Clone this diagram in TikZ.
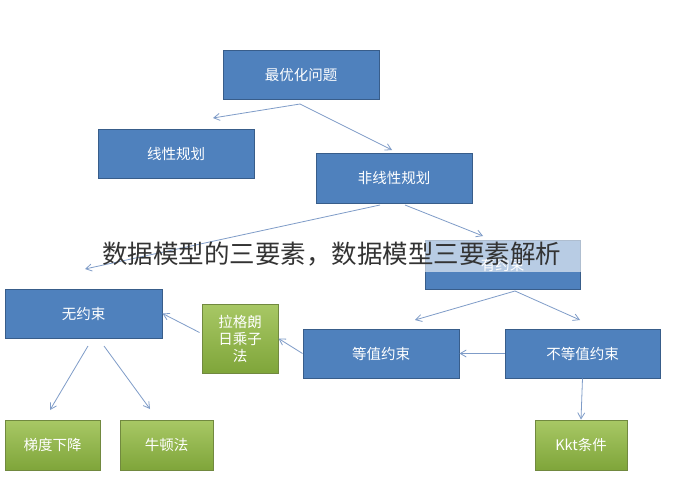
\documentclass[tikz,border=0pt]{standalone}
\usepackage{fontspec}
\newfontfamily\cjk{Noto Sans CJK SC}
\usetikzlibrary{arrows.meta}
\definecolor{bfill}{HTML}{4F81BD}
\definecolor{bdraw}{HTML}{385D8A}
\definecolor{gtop}{HTML}{A8C865}
\definecolor{gbot}{HTML}{7FA53A}
\definecolor{gdraw}{HTML}{71893F}
\definecolor{arr}{HTML}{7F9CC8}
\begin{document}
\begin{tikzpicture}[x=1pt,y=-1pt,
  bbox/.style={draw=bdraw,line width=1pt,fill=bfill,text=white,font=\cjk\fontsize{14.5}{16}\selectfont,inner sep=0pt},
  gbox/.style={draw=gdraw,line width=1pt,top color=gtop,bottom color=gbot,text=white,font=\cjk\fontsize{14.5}{17}\selectfont,inner sep=0pt,align=center},
  conn/.style={draw=arr,line width=0.8pt,-{Straight Barb[length=6pt,width=7pt]}}]
\useasboundingbox (0,0) rectangle (673,490);
\fill[white] (0,0) rectangle (673,490);
\node[bbox,minimum width=156pt,minimum height=49pt] (opt) at (301,74.5) {最优化问题};
\node[bbox,minimum width=156pt,minimum height=49pt] (lin) at (176,153.5) {线性规划};
\node[bbox,minimum width=156pt,minimum height=50pt] (nl) at (394,178) {非线性规划};
\node[bbox,minimum width=155pt,minimum height=49pt] (yc) at (502.5,264.5) {有约束};
\node[bbox,minimum width=157pt,minimum height=49pt] (wc) at (83.5,313.5) {无约束};
\node[gbox,minimum width=76pt,minimum height=69pt] (lg) at (240,338.5) {拉格朗\\日乘子\\法};
\node[bbox,minimum width=156pt,minimum height=49pt] (dz) at (381,353.5) {等值约束};
\node[bbox,minimum width=155pt,minimum height=49pt] (bd) at (582.5,353.5) {不等值约束};
\node[gbox,minimum width=95pt,minimum height=50pt] (td) at (52.5,445) {梯度下降};
\node[gbox,minimum width=93pt,minimum height=50pt] (nd) at (166.5,445) {牛顿法};
\node[gbox,minimum width=92pt,minimum height=50pt] (kkt) at (581,445) {Kkt条件};
\coordinate (o1) at (300,104);
\coordinate (n1) at (380,205);
\coordinate (n2) at (405,205);
\coordinate (y1) at (515,291);
\coordinate (w1) at (88,346);
\coordinate (w2) at (104,346);
\draw[conn] (o1) -- (213,118);
\draw[conn] (o1) -- (392,150);
\draw[conn] (n1) -- (85,269);
\draw[conn] (n2) -- (483,236);
\draw[conn] (y1) -- (415,320);
\draw[conn] (y1) -- (580,320);
\draw[conn] (bd.west) -- (dz.east);
\draw[conn] (dz.west) -- (lg.east);
\draw[conn] (lg.west) ++(-2,-6) -- (wc.east);
\draw[conn] (w1) -- (50,410);
\draw[conn] (w2) -- (150,409);
\draw[conn] (bd.south) -- (kkt.north);
\fill[white,opacity=0.6] (425,239) rectangle (581,272);
\node[font=\cjk\fontsize{25.5}{28}\selectfont,text=black!80,inner sep=0pt,anchor=west] (ov) at (102,254) {数据模型的三要素，数据模型三要素解析};
\end{tikzpicture}
\end{document}
